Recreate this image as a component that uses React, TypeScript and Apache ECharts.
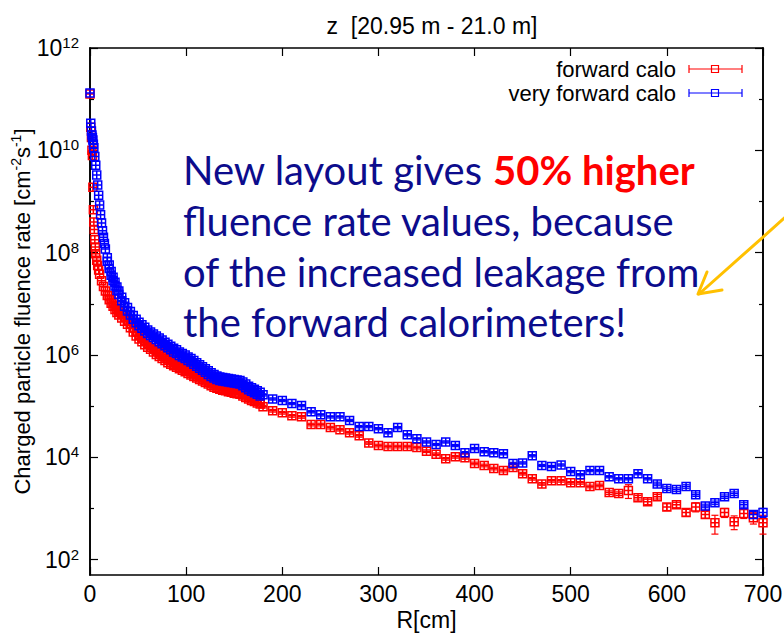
import React, { useEffect, useRef } from "react";
import * as echarts from "echarts";

// ---------------- data ----------------
const chartTitle = "z  [20.95 m - 21.0 m]";
const seriesNames = ["forward calo", "very forward calo"];
const xTickValues = [0, 100, 200, 300, 400, 500, 600, 700];
const yMajorTicks = [1e2, 1e4, 1e6, 1e8, 1e10, 1e12];
const yMinorTicks = [1e3, 1e5, 1e7, 1e9, 1e11];

// fine bins near the beam: [R (cm), log10(rate) upper edge of scatter, log10(rate) lower edge]
const fwdDense: [number, number, number][] = [
  [0, 11.1, 11.1], [0.8, 10.45, 10.45], [1.5, 10.25, 10.25], [2, 10.0, 10.0], [2.5, 9.9, 9.9],
  [3, 9.28, 9.28], [3.5, 8.84, 8.84], [4, 8.6, 8.6], [4.5, 8.45, 8.45], [5, 8.25, 8.25],
  [5.5, 8.11, 8.11], [6, 7.98, 7.98], [7, 7.85, 7.85], [8, 7.75, 7.75], [9, 7.66, 7.66],
  [10, 7.58, 7.58], [12, 7.45, 7.45], [14, 7.34, 7.34], [16, 7.25, 7.25], [18, 7.16, 7.16],
  [20, 7.16, 7.08], [22, 7.09, 7.01], [24, 7.03, 6.95], [26, 6.97, 6.89], [28, 6.91, 6.83],
  [30, 6.86, 6.78], [33, 6.8, 6.72], [36, 6.74, 6.66], [39, 6.68, 6.6], [42, 6.61, 6.53],
  [45, 6.53, 6.45], [48, 6.45, 6.37], [51, 6.39, 6.31], [54, 6.34, 6.26], [57, 6.28, 6.2],
  [60, 6.23, 6.15], [63, 6.19, 6.11], [66, 6.14, 6.06], [69, 6.09, 6.01], [72, 6.05, 5.97],
  [75, 6.01, 5.93], [78, 5.97, 5.89], [81, 5.93, 5.85], [84, 5.9, 5.82], [87, 5.87, 5.79],
  [90, 5.84, 5.76], [93, 5.81, 5.73], [96, 5.78, 5.7], [99, 5.75, 5.67], [102, 5.72, 5.64],
  [105, 5.69, 5.61], [108, 5.66, 5.58], [111, 5.63, 5.55], [114, 5.6, 5.52], [117, 5.57, 5.49],
  [120, 5.54, 5.46], [123, 5.51, 5.43], [126, 5.48, 5.4], [129, 5.45, 5.37], [132, 5.43, 5.35],
  [135, 5.41, 5.33], [138, 5.39, 5.31], [141, 5.38, 5.3], [144, 5.36, 5.28], [147, 5.35, 5.27],
  [150, 5.33, 5.25], [153, 5.32, 5.24], [156, 5.31, 5.23], [159, 5.28, 5.2], [162, 5.25, 5.17],
  [165, 5.22, 5.14], [168, 5.19, 5.11], [171, 5.17, 5.09], [174, 5.14, 5.06], [177, 5.12, 5.04],
];
const vfwdDense: [number, number, number][] = [
  [0, 11.12, 11.12], [0.8, 10.53, 10.53], [1.5, 10.38, 10.38], [2, 10.3, 10.3], [2.5, 10.25, 10.25],
  [3, 10.2, 10.2], [3.5, 10.12, 10.12], [4, 10.05, 10.05], [5, 9.88, 9.88], [6, 9.71, 9.71],
  [7, 9.52, 9.52], [8, 9.32, 9.32], [9, 9.12, 9.12], [10, 8.93, 8.93], [11, 8.74, 8.74],
  [12, 8.58, 8.58], [13, 8.43, 8.43], [14, 8.3, 8.3], [15, 8.18, 8.18], [16, 8.07, 8.07],
  [18, 7.9, 7.83], [20, 7.76, 7.69], [22, 7.63, 7.56], [24, 7.52, 7.45], [26, 7.42, 7.35],
  [28, 7.33, 7.26], [30, 7.25, 7.18], [33, 7.13, 7.06], [36, 7.02, 6.95], [39, 6.93, 6.86],
  [42, 6.85, 6.78], [45, 6.77, 6.7], [48, 6.7, 6.63], [51, 6.64, 6.57], [54, 6.59, 6.52],
  [57, 6.54, 6.47], [60, 6.49, 6.42], [63, 6.45, 6.38], [66, 6.41, 6.34], [69, 6.37, 6.3],
  [72, 6.33, 6.26], [75, 6.29, 6.22], [78, 6.25, 6.18], [81, 6.21, 6.14], [84, 6.17, 6.1],
  [87, 6.13, 6.06], [90, 6.1, 6.03], [93, 6.06, 5.99], [96, 6.03, 5.96], [99, 6.0, 5.93],
  [102, 5.96, 5.89], [105, 5.93, 5.86], [108, 5.89, 5.82], [111, 5.85, 5.78], [114, 5.81, 5.74],
  [117, 5.77, 5.7], [120, 5.73, 5.66], [123, 5.69, 5.62], [126, 5.65, 5.58], [129, 5.62, 5.55],
  [132, 5.59, 5.52], [135, 5.57, 5.5], [138, 5.56, 5.49], [141, 5.55, 5.48], [144, 5.54, 5.47],
  [147, 5.53, 5.46], [150, 5.52, 5.45], [153, 5.51, 5.44], [156, 5.5, 5.43], [159, 5.47, 5.4],
  [162, 5.43, 5.36], [165, 5.39, 5.32], [168, 5.36, 5.29], [171, 5.33, 5.26], [174, 5.3, 5.23],
  [177, 5.27, 5.2],
];

// coarse 10 cm bins
const binR = [
  180, 190, 200, 210, 220, 230, 240, 250, 260, 270, 280, 290, 300, 310, 320, 330, 340, 350,
  360, 370, 380, 390, 400, 410, 420, 430, 440, 450, 460, 470, 480, 490, 500, 510, 520, 530,
  540, 550, 560, 570, 580, 590, 600, 610, 620, 630, 640, 650, 660, 670, 680, 690, 700,
];
const fwdBinLog = [
  4.99, 4.91, 4.87, 4.81, 4.79, 4.64, 4.64, 4.58, 4.54, 4.48, 4.42, 4.28, 4.23, 4.21, 4.21,
  4.21, 4.19, 4.12, 4.06, 3.97, 4.01, 3.99, 3.88, 3.84, 3.78, 3.74, 3.8, 3.68, 3.58, 3.48,
  3.54, 3.54, 3.5, 3.5, 3.43, 3.45, 3.31, 3.29, 3.35, 3.21, 3.13, 3.23, 3.03, 3.07, 2.92,
  3.03, 2.88, 2.72, 2.92, 2.74, 2.9, 2.82, 2.72,
];
const vfwdBinLog = [
  5.22, 5.14, 5.11, 5.05, 5.01, 4.89, 4.83, 4.79, 4.79, 4.72, 4.6, 4.6, 4.56, 4.48, 4.58,
  4.44, 4.36, 4.3, 4.25, 4.3, 4.23, 4.09, 4.17, 4.11, 4.09, 4.07, 3.88, 3.89, 4.03, 3.84,
  3.82, 3.85, 3.72, 3.66, 3.74, 3.74, 3.62, 3.58, 3.58, 3.68, 3.58, 3.48, 3.39, 3.37, 3.43,
  3.27, 3.05, 3.11, 3.23, 3.29, 3.07, 2.88, 2.92,
];
// relative statistical errors of the coarse bins
const fwdBinErr = [
  0.06, 0.06, 0.06, 0.06, 0.06, 0.06, 0.06, 0.06, 0.06, 0.06, 0.06, 0.06, 0.06, 0.06, 0.06,
  0.06, 0.06, 0.06, 0.06, 0.06, 0.06, 0.06, 0.06, 0.06, 0.06, 0.06, 0.06, 0.06, 0.06, 0.06,
  0.06, 0.06, 0.06, 0.06, 0.06, 0.06, 0.08, 0.08, 0.3, 0.1, 0.12, 0.1, 0.15, 0.12, 0.15,
  0.2, 0.15, 0.4, 0.2, 0.3, 0.2, 0.25, 0.4,
];
const vfwdBinErr = [
  0.05, 0.05, 0.05, 0.05, 0.05, 0.05, 0.05, 0.05, 0.05, 0.05, 0.05, 0.05, 0.05, 0.05, 0.05,
  0.05, 0.05, 0.05, 0.05, 0.05, 0.05, 0.05, 0.05, 0.05, 0.05, 0.05, 0.05, 0.05, 0.05, 0.05,
  0.05, 0.05, 0.05, 0.05, 0.05, 0.05, 0.05, 0.05, 0.05, 0.05, 0.05, 0.08, 0.08, 0.08, 0.08,
  0.08, 0.08, 0.08, 0.08, 0.08, 0.1, 0.15, 0.2,
];

const annotationLine1 = ["New layout gives ", "50% higher"];
const annotationRest = [
  "fluence rate values, because",
  "of the increased leakage from",
  "the forward calorimeters!",
];

// ---------------- styling ----------------
const FONT = "'Liberation Sans', Arial, Helvetica, sans-serif";
const FS = 23;
const LEGEND_FS = 22;
const ANNO_FONT = "Lato, 'Open Sans', sans-serif";
const ANNO_FS = 40;
const NAVY = "#0c0c8c";
const RED = "#ff0000";
const BLUE = "#0000ff";
const SQUARE = "path://M0,0L10,0L10,10L0,10Z M5,0L5,10 M0,5L10,5";

function supLabel(v: number) {
  return `{b|10}{s|${Math.round(Math.log10(v))}}`;
}

function errorSeries(color: string, data: number[][]) {
  return {
    type: "custom",
    silent: true,
    encode: { x: 0, y: 1 },
    data,
    renderItem: (_p: any, api: any) => {
      const r = api.value(0);
      const v = api.value(1);
      const e = api.value(2);
      const hi = api.coord([r, v * (1 + e)]);
      const lo = api.coord([r, v * (1 - e)]);
      const c = 3.5;
      const st = { stroke: color, lineWidth: 1.2 };
      return {
        type: "group",
        children: [
          { type: "line", shape: { x1: hi[0], y1: hi[1], x2: lo[0], y2: lo[1] }, style: st },
          { type: "line", shape: { x1: hi[0] - c, y1: hi[1], x2: hi[0] + c, y2: hi[1] }, style: st },
          { type: "line", shape: { x1: lo[0] - c, y1: lo[1], x2: lo[0] + c, y2: lo[1] }, style: st },
        ],
      };
    },
  };
}

function markerSeries(name: string, color: string, data: number[][]) {
  return {
    type: "scatter",
    name,
    data,
    symbol: SQUARE,
    symbolSize: 8,
    silent: true,
    itemStyle: { color: "rgba(0,0,0,0)", borderColor: color, borderWidth: 1.5, opacity: 1 },
  };
}

function legendRow(label: string, color: string, y: number) {
  const st = { stroke: color, lineWidth: 1.2, fill: "none" };
  return [
    {
      type: "text",
      x: 676,
      y,
      style: {
        text: label,
        font: `${LEGEND_FS}px ${FONT}`,
        fill: "#000",
        align: "right",
        verticalAlign: "middle",
      },
    },
    { type: "line", shape: { x1: 689, y1: y, x2: 742, y2: y }, style: st },
    { type: "line", shape: { x1: 689, y1: y - 4, x2: 689, y2: y + 4 }, style: st },
    { type: "line", shape: { x1: 742, y1: y - 4, x2: 742, y2: y + 4 }, style: st },
    { type: "rect", shape: { x: 711.5, y: y - 3.5, width: 7, height: 7 }, style: st },
  ];
}

export default function App() {
  const ref = useRef<HTMLDivElement>(null);
  useEffect(() => {
    if (!ref.current) return;
    const chart = echarts.init(ref.current, undefined, { renderer: "svg" });

    const axisLine = { show: true, lineStyle: { color: "#000", width: 1.6 } };
    const tickStyle = { color: "#000", width: 1.2 };
    const yBase = {
      type: "log",
      logBase: 10,
      min: 50,
      max: 1e12,
      splitLine: { show: false },
      axisLine,
    };

    const denseToPoints = (rows: [number, number, number][]) => {
      const out: number[][] = [];
      rows.forEach(([r, hi, lo]) => {
        out.push([r, Math.pow(10, hi)]);
        if (lo !== hi) out.push([r, Math.pow(10, lo)]);
      });
      return out;
    };
    const fwdD = denseToPoints(fwdDense);
    const vfwdD = denseToPoints(vfwdDense);
    const fwdB = binR.map((r, i) => [r, Math.pow(10, fwdBinLog[i]), fwdBinErr[i]]);
    const vfwdB = binR.map((r, i) => [r, Math.pow(10, vfwdBinLog[i]), vfwdBinErr[i]]);

    const option: any = {
      animation: false,
      backgroundColor: "#fff",
      title: {
        text: chartTitle,
        left: 427,
        top: 9,
        textAlign: "center",
        textStyle: { fontSize: FS, fontWeight: "normal", fontFamily: FONT, color: "#000" },
      },
      grid: { left: 90, right: 21, top: 48, bottom: 59, containLabel: false, outerBoundsMode: "none" },
      xAxis: [
        {
          type: "value",
          min: xTickValues[0],
          max: xTickValues[xTickValues.length - 1],
          interval: 100,
          position: "bottom",
          axisLine,
          axisTick: { inside: true, length: 8, lineStyle: tickStyle },
          axisLabel: { fontSize: FS, color: "#000", fontFamily: FONT, margin: 7 },
          splitLine: { show: false },
          name: "R[cm]",
          nameLocation: "middle",
          nameGap: 33,
          nameMoveOverlap: false,
          nameTextStyle: { fontSize: FS, color: "#000", fontFamily: FONT },
        },
        {
          type: "value",
          min: xTickValues[0],
          max: xTickValues[xTickValues.length - 1],
          interval: 100,
          position: "top",
          axisLine,
          axisTick: { inside: true, length: 8, lineStyle: tickStyle },
          axisLabel: { show: false },
          splitLine: { show: false },
        },
      ],
      yAxis: [
        {
          ...yBase,
          position: "left",
          offset: 0,
          axisTick: { inside: true, length: 8, lineStyle: tickStyle, customValues: yMajorTicks },
          axisLabel: {
            customValues: yMajorTicks,
            formatter: supLabel,
            margin: 11,
            rich: {
              b: { fontSize: FS, fontFamily: FONT, color: "#000", lineHeight: 26 },
              s: { fontSize: 15, fontFamily: FONT, color: "#000", lineHeight: 15, verticalAlign: "top" },
            },
          },
          name: "{n|Charged particle fluence rate [cm}{s|-2}{n|s}{s|-1}{n|]}",
          nameLocation: "middle",
          nameGap: 55,
          nameMoveOverlap: false,
          nameTextStyle: {
            rich: {
              n: { fontSize: 22, fontFamily: FONT, color: "#000", lineHeight: 26 },
              s: { fontSize: 14, fontFamily: FONT, color: "#000", lineHeight: 14, verticalAlign: "top" },
            },
          },
        },
        {
          ...yBase,
          position: "left",
          offset: 0,
          axisTick: { inside: true, length: 4, lineStyle: tickStyle, customValues: yMinorTicks },
          axisLabel: { show: false },
        },
        {
          ...yBase,
          position: "right",
          offset: 0,
          axisTick: { inside: true, length: 8, lineStyle: tickStyle, customValues: yMajorTicks },
          axisLabel: { show: false },
        },
        {
          ...yBase,
          position: "right",
          offset: 0,
          axisTick: { inside: true, length: 4, lineStyle: tickStyle, customValues: yMinorTicks },
          axisLabel: { show: false },
        },
      ],
      series: [
        markerSeries(seriesNames[0], RED, fwdD),
        markerSeries(seriesNames[0], RED, fwdB.map((d) => [d[0], d[1]])),
        errorSeries(RED, fwdB),
        markerSeries(seriesNames[1], BLUE, vfwdD),
        markerSeries(seriesNames[1], BLUE, vfwdB.map((d) => [d[0], d[1]])),
        errorSeries(BLUE, vfwdB),
      ],
      graphic: [
        ...legendRow(seriesNames[0], RED, 69),
        ...legendRow(seriesNames[1], BLUE, 93),
        {
          type: "text",
          x: 183,
          y: 170,
          z: 10,
          style: {
            text: `{a|${annotationLine1[0]}}{b|${annotationLine1[1]}}`,
            align: "left",
            verticalAlign: "middle",
            rich: {
              a: { fontSize: ANNO_FS, fontFamily: ANNO_FONT, fill: NAVY, lineHeight: 48 },
              b: { fontSize: ANNO_FS, fontFamily: ANNO_FONT, fontWeight: "bold", fill: RED, lineHeight: 48 },
            },
          },
        },
        ...annotationRest.map((t, i) => ({
          type: "text",
          x: 183,
          y: 221 + i * 50.5,
          z: 10,
          style: {
            text: t,
            fontSize: ANNO_FS,
            fontFamily: ANNO_FONT,
            fill: NAVY,
            align: "left",
            verticalAlign: "middle",
          },
        })),
        {
          type: "line",
          z: 10,
          shape: { x1: 790, y1: 213, x2: 699, y2: 294 },
          style: { stroke: "#ffc000", lineWidth: 3, lineCap: "round" },
        },
        {
          type: "polyline",
          z: 10,
          shape: { points: [[707, 272], [698, 294], [722, 290]] },
          style: { stroke: "#ffc000", lineWidth: 3, fill: "none", lineCap: "round", lineJoin: "round" },
        },
      ],
    };
    chart.setOption(option);
    return () => chart.dispose();
  }, []);
  return (
    <div
      ref={ref}
      style={{ position: "fixed", left: 0, top: 0, width: 784, height: 634, background: "#fff" }}
    />
  );
}
